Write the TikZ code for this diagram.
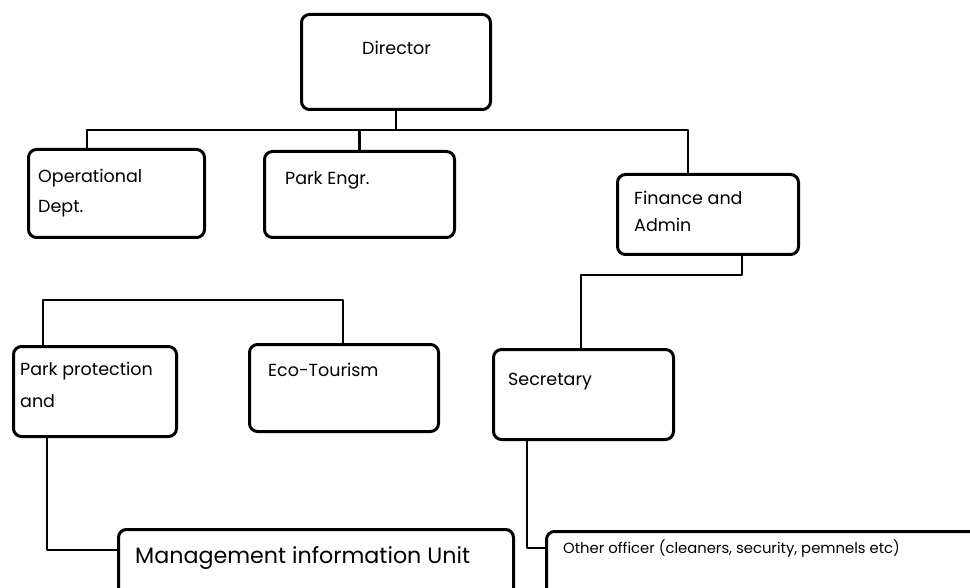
\documentclass[tikz,border=0pt]{standalone}
\usepackage{fontspec}
\setmainfont{Poppins}
\usetikzlibrary{calc}
\tikzset{
  box/.style={draw, line width=3pt, rounded corners=8pt, inner sep=0pt, anchor=north west},
  lbl/.style={anchor=base west, inner sep=0pt, font=\fontsize{17.5}{20}\selectfont},
  conn/.style={line width=2.8pt, line join=round},
}
\begin{document}
\begin{tikzpicture}[x=1pt,y=-1pt]
\clip (0,0) rectangle (970,588);
\useasboundingbox (0,0) rectangle (970,588);
% boxes
\node[box, minimum width=189pt, minimum height=95pt] (dir) at (300,13) {};
\node[box, minimum width=176pt, minimum height=88pt] (op) at (27,148) {};
\node[box, minimum width=190pt, minimum height=86pt] (pe) at (263,150) {};
\node[box, minimum width=181pt, minimum height=80pt] (fin) at (616,173) {};
\node[box, minimum width=163pt, minimum height=90pt] (pp) at (12,345) {};
\node[box, minimum width=189pt, minimum height=87pt] (eco) at (248,343) {};
\node[box, minimum width=180pt, minimum height=90pt] (sec) at (492,348) {};
\node[box, minimum width=395pt, minimum height=75pt] (miu) at (117,528) {};
\node[box, minimum width=440pt, minimum height=75pt] (oth) at (545,530) {};
% labels
\node[lbl] (tdir) at (362,55) {Director};
\node[lbl] (top1) at (38,183) {Operational};
\node[lbl] (top2) at (38,213) {Dept.};
\node[lbl] (tpe) at (285,185) {Park Engr.};
\node[lbl] (tfin1) at (634,205) {Finance and};
\node[lbl] (tfin2) at (634,232) {Admin};
\node[lbl] (tpp1) at (20,375) {Park protection};
\node[lbl] (tpp2) at (20,407) {and};
\node[lbl] (teco) at (268,376) {Eco-Tourism};
\node[lbl] (tsec) at (508,385) {Secretary};
\node[lbl, font=\fontsize{22.2}{26}\selectfont] (tmiu) at (135,563) {Management information Unit};
\node[lbl, font=\fontsize{14.8}{17}\selectfont] (toth) at (563,553) {Other officer (cleaners, security, pemnels etc)};
% connector anchors
\coordinate (bar) at (0,130);
\coordinate (opc) at ($(op.north west)+(60,0)$);
\coordinate (finc) at ($(fin.north west)+(72,0)$);
\coordinate (finb) at ($(fin.south west)+(126,0)$);
\coordinate (secc) at ($(sec.north west)+(89,0)$);
\coordinate (ppc) at ($(pp.north west)+(31,0)$);
\coordinate (ecoc) at ($(eco.north west)+(95,0)$);
\coordinate (ppb) at ($(pp.south west)+(35,0)$);
\coordinate (miuc) at ($(miu.north west)+(0,22)$);
\coordinate (secb) at ($(sec.south west)+(35,0)$);
\coordinate (othc) at ($(oth.north west)+(0,18)$);
% connectors
\draw[conn] (dir.south) -- (dir.south |- bar);
\draw[conn] (opc) -- (opc |- bar) -- (finc |- bar) -- (finc);
\draw[conn] (pe.north) -- (pe.north |- bar);
\draw[conn] (finb) -- ++(0,19) -| (secc);
\draw[conn] (ppc) -- ++(0,-45) -| (ecoc);
\draw[conn] (ppb) |- (miuc);
\draw[conn] (secb) |- (othc);
\end{tikzpicture}
\end{document}
